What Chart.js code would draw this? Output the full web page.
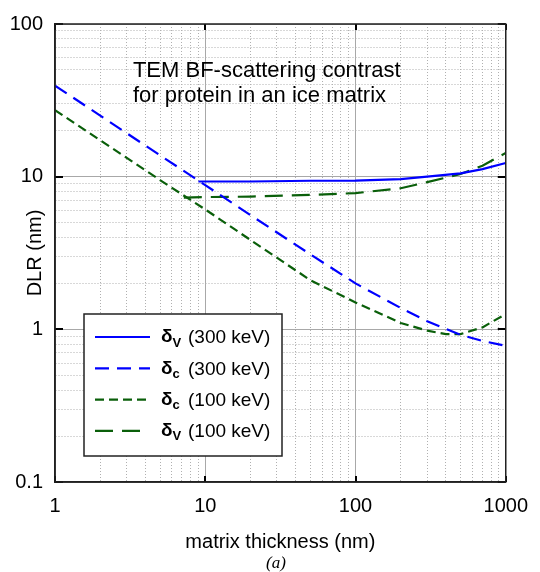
<!DOCTYPE html>
<html><head><meta charset="utf-8">
<style>html,body{margin:0;padding:0;background:#fff}#wrap{width:540px;height:572px}</style>
<script src="https://cdn.jsdelivr.net/npm/chart.js@4.4.0/dist/chart.umd.min.js"></script>
</head><body><div id="wrap"><canvas id="c" width="540" height="572"></canvas></div>
<script>
// ---- data ----
const thicknessDv300 = [9, 20, 50, 100, 200, 300, 500, 700, 1000];
const dlrDv300       = [9.3, 9.3, 9.4, 9.42, 9.65, 10.0, 10.5, 11.2, 12.3];
const thicknessDc300 = [1, 2, 5, 10, 20, 50, 100, 200, 300, 500, 700, 1000];
const dlrDc300       = [39.5, 25.1, 13.8, 8.8, 5.6, 3.1, 2.0, 1.38, 1.13, 0.92, 0.84, 0.78];
const thicknessDc100 = [1, 2, 5, 10, 20, 50, 100, 200, 300, 400, 500, 700, 1000];
const dlrDc100       = [27.3, 17.3, 9.5, 6.1, 3.85, 2.1, 1.5, 1.1, 0.98, 0.93, 0.93, 1.03, 1.26];
const thicknessDv100 = [7.2, 10, 20, 50, 100, 200, 300, 500, 700, 1000];
const dlrDv100       = [7.3, 7.35, 7.4, 7.6, 7.8, 8.4, 9.2, 10.4, 11.8, 14.3];

const seriesSymbols   = ['δ', 'δ', 'δ', 'δ'];
const seriesSubs      = ['V', 'c', 'c', 'V'];
const seriesEnergies  = ['(300 keV)', '(300 keV)', '(100 keV)', '(100 keV)'];

const xTickValues = [1,2,3,4,5,6,7,8,9,10,20,30,40,50,60,70,80,90,100,200,300,400,500,600,700,800,900,1000];
const xMajor      = [1, 10, 100, 1000];
const xTickLabels = ['1', '10', '100', '1000'];
const yTickValues = [0.1,0.2,0.3,0.4,0.5,0.6,0.7,0.8,0.9,1,2,3,4,5,6,7,8,9,10,20,30,40,50,60,70,80,90,100];
const yMajor      = [0.1, 1, 10, 100];
const yTickLabels = ['0.1', '1', '10', '100'];

const titleLines = ['TEM BF-scattering contrast', 'for protein in an ice matrix'];
const xTitle = 'matrix thickness (nm)';
const yTitle = 'DLR (nm)';
const panelLabel = '(a)';

// ---- styling ----
const FONT = "'Liberation Sans', Arial, sans-serif";
const BLUE = '#0000ff', GREEN = '#0a5f0a';
const toPts = (xs, ys) => xs.map((t, i) => ({x: t, y: ys[i]}));
const legendSampleLen = [55, 55, 55, 45];

const datasets = [
  {label: 'δV (300 keV)', data: toPts(thicknessDv300, dlrDv300), borderColor: BLUE,  borderDash: []},
  {label: 'δc (300 keV)', data: toPts(thicknessDc300, dlrDc300), borderColor: BLUE,  borderDash: [14, 8]},
  {label: 'δc (100 keV)', data: toPts(thicknessDc100, dlrDc100), borderColor: GREEN, borderDash: [9, 5]},
  {label: 'δV (100 keV)', data: toPts(thicknessDv100, dlrDv100), borderColor: GREEN, borderDash: [18, 9]}
].map(d => Object.assign(d, {borderWidth: 2.2, pointRadius: 0, fill: false, tension: 0, borderCapStyle: 'butt'}));

const gridColor = (major) => ctx => (ctx.tick && major.includes(ctx.tick.value)) ? '#a8a8a8' : '#b0b0b0';
const gridDash  = (major) => ctx => (ctx.tick && !major.includes(ctx.tick.value)) ? [1, 2] : [];

const decor = {
  id: 'decor',
  afterDatasetsDraw(chart) {
    const {ctx, chartArea: a, scales: {x, y}} = chart;
    ctx.save();
    ctx.strokeStyle = '#000';
    ctx.lineWidth = 2;
    ctx.setLineDash([]);
    xMajor.forEach(v => {
      const px = Math.round(x.getPixelForValue(v));
      ctx.beginPath();
      ctx.moveTo(px, a.top); ctx.lineTo(px, a.top + 6);
      ctx.moveTo(px, a.bottom); ctx.lineTo(px, a.bottom - 6);
      ctx.stroke();
    });
    yMajor.forEach(v => {
      const py = Math.round(y.getPixelForValue(v));
      ctx.beginPath();
      ctx.moveTo(a.left, py); ctx.lineTo(a.left + 8, py);
      ctx.moveTo(a.right, py); ctx.lineTo(a.right - 8, py);
      ctx.stroke();
    });
    ctx.lineWidth = 1.5;
    ctx.strokeStyle = '#222';
    ctx.strokeRect(a.left, a.top, a.width, a.height);
    ctx.restore();
  },
  afterDraw(chart) {
    const {ctx, chartArea: a, scales: {x, y}} = chart;
    ctx.save();
    // annotation
    ctx.fillStyle = '#000';
    ctx.font = `22px ${FONT}`;
    ctx.textAlign = 'left';
    ctx.textBaseline = 'alphabetic';
    const tx = x.getPixelForValue(3.3), ty = y.getPixelForValue(45);
    titleLines.forEach((t, i) => ctx.fillText(t, tx, ty + i * 25));

    // legend
    const bx = a.left + 29, by = a.top + 290, bw = 198, bh = 142;
    ctx.fillStyle = '#fff';
    ctx.fillRect(bx, by, bw, bh);
    ctx.strokeStyle = '#222';
    ctx.lineWidth = 1.5;
    ctx.strokeRect(bx, by, bw, bh);
    datasets.forEach((d, i) => {
      const ry = by + 23 + i * 31.3;
      ctx.save();
      ctx.strokeStyle = d.borderColor;
      ctx.lineWidth = d.borderWidth;
      ctx.setLineDash(d.borderDash);
      ctx.beginPath();
      ctx.moveTo(bx + 11, ry); ctx.lineTo(bx + 11 + legendSampleLen[i], ry);
      ctx.stroke();
      ctx.restore();
      ctx.fillStyle = '#000';
      ctx.textBaseline = 'middle';
      ctx.font = `bold 19px ${FONT}`;
      ctx.fillText(seriesSymbols[i], bx + 77, ry);
      const sw = ctx.measureText(seriesSymbols[i]).width;
      ctx.font = `bold 13px ${FONT}`;
      ctx.fillText(seriesSubs[i], bx + 77 + sw, ry + 6);
      ctx.font = `19px ${FONT}`;
      ctx.fillText(seriesEnergies[i], bx + 104, ry + 1);
    });

    // panel label
    ctx.font = `italic 17px 'Liberation Serif', 'Times New Roman', serif`;
    ctx.textAlign = 'center';
    ctx.textBaseline = 'middle';
    ctx.fillStyle = '#000';
    ctx.fillText(panelLabel, 276, 564);
    ctx.restore();
  }
};

new Chart(document.getElementById('c'), {
  type: 'line',
  data: {datasets},
  plugins: [decor],
  options: {
    responsive: false, animation: false, devicePixelRatio: 1,
    layout: {padding: {top: 22, right: 23, left: 0, bottom: 0}},
    plugins: {legend: {display: false}, tooltip: {enabled: false}},
    scales: {
      x: {
        type: 'logarithmic', min: 1, max: 1000, position: 'bottom',
        afterBuildTicks: s => { s.ticks = xTickValues.map(v => ({value: v})); },
        afterFit: s => { s.height = 90; },
        ticks: {autoSkip: false, maxRotation: 0, padding: 12, color: '#000', font: {family: FONT, size: 20},
                callback: v => { const i = xMajor.indexOf(v); return i >= 0 ? xTickLabels[i] : ''; }},
        grid: {drawTicks: false, color: gridColor(xMajor), lineWidth: 1, borderDash: gridDash(xMajor)},
        border: {display: true, color: '#222', width: 1.5, dash: gridDash(xMajor)},
        title: {display: true, text: xTitle, color: '#000', font: {family: FONT, size: 20}, padding: {top: 0, bottom: 18}}
      },
      y: {
        type: 'logarithmic', min: 0.1, max: 100, position: 'left',
        afterBuildTicks: s => { s.ticks = yTickValues.map(v => ({value: v})); },
        afterFit: s => { s.width = 55; },
        ticks: {autoSkip: false, padding: 12, color: '#000', font: {family: FONT, size: 20},
                callback: v => { const i = yMajor.indexOf(v); return i >= 0 ? yTickLabels[i] : ''; }},
        grid: {drawTicks: false, color: gridColor(yMajor), lineWidth: 1, borderDash: gridDash(yMajor)},
        border: {display: true, color: '#222', width: 1.5, dash: gridDash(yMajor)},
        title: {display: true, text: yTitle, color: '#000', font: {family: FONT, size: 20}, padding: {top: 23, bottom: 0}}
      }
    }
  }
});
</script></body></html>
